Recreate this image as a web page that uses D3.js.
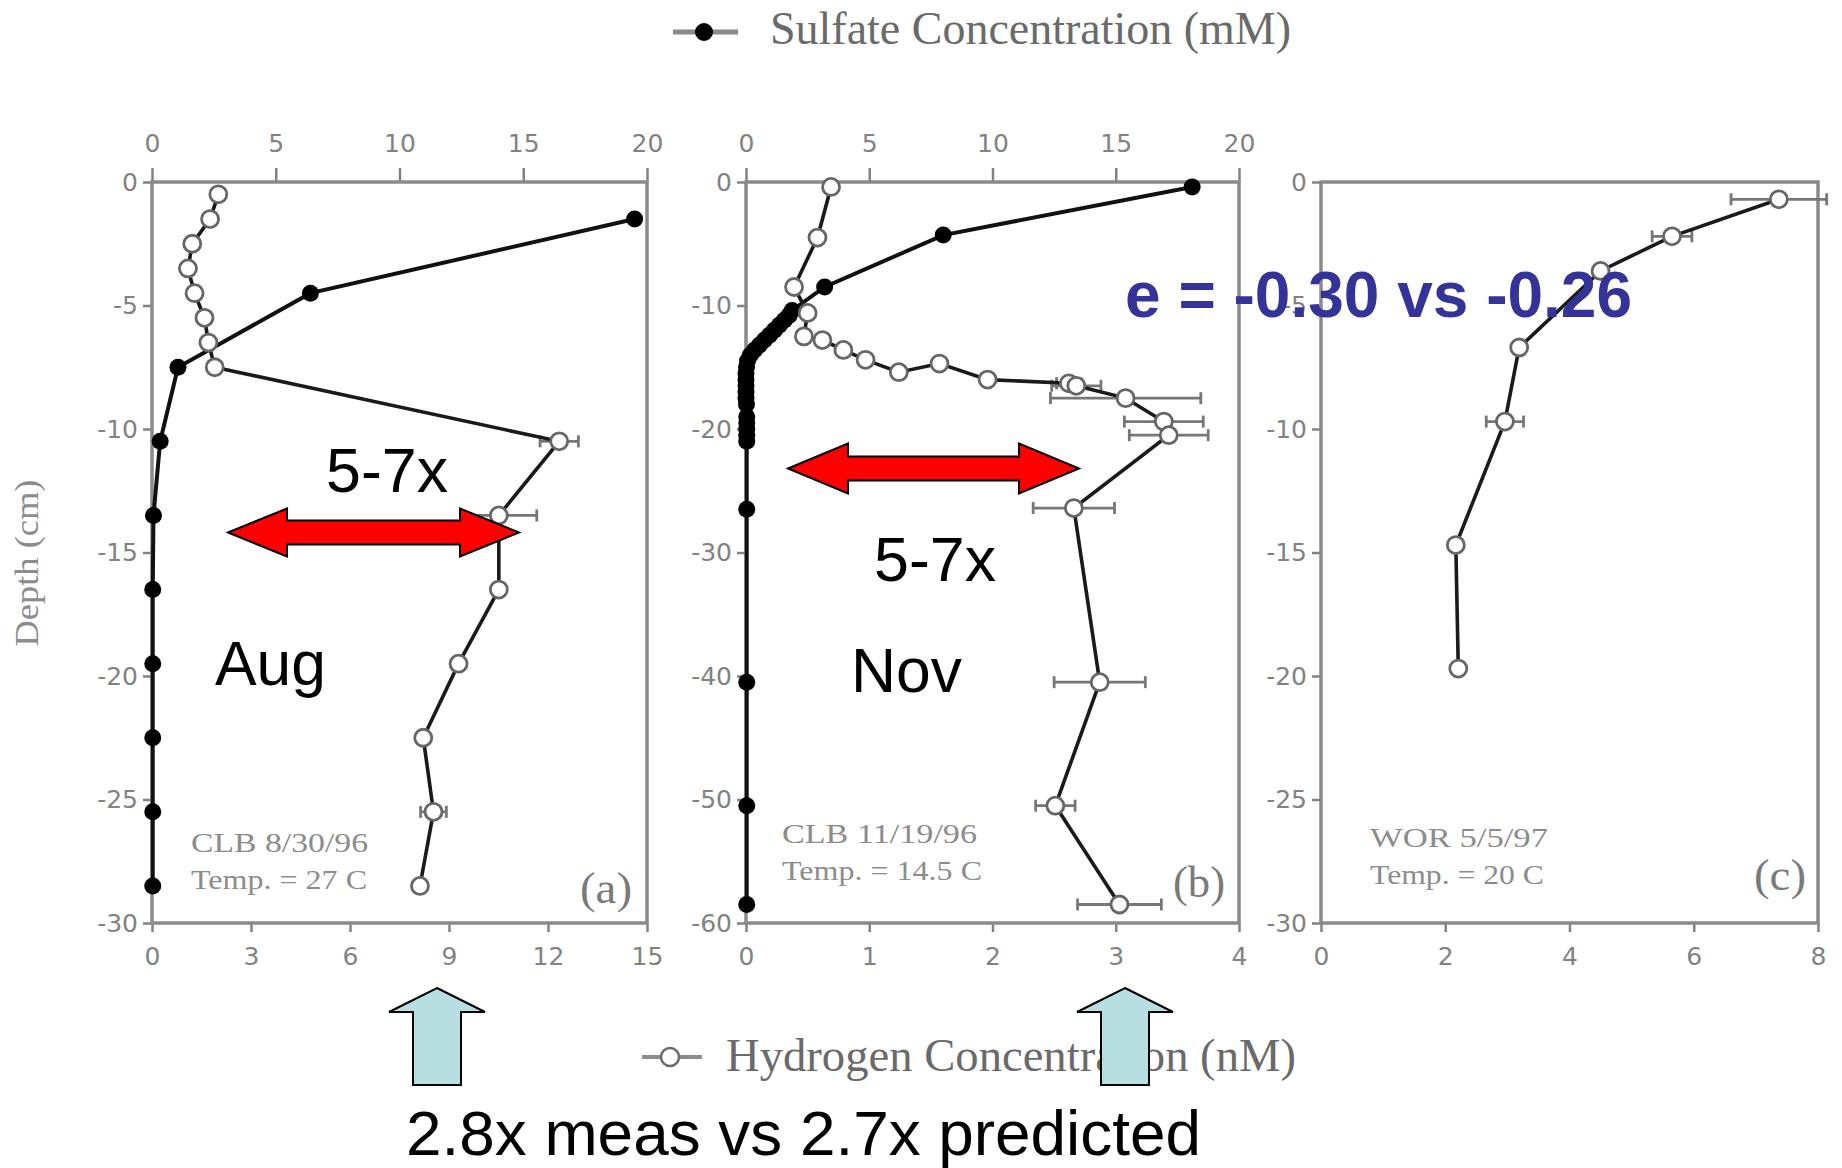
<!DOCTYPE html>
<html>
<head>
<meta charset="utf-8">
<script src="https://cdn.jsdelivr.net/npm/d3@7"></script>
<style>
  body { margin: 0; background: #fff; }
  svg { display: block; }
</style>
</head>
<body>
<script>
// ---- data ----
const sulfateTicks = [0, 5, 10, 15, 20];
const hydrogenTicksA = [0, 3, 6, 9, 12, 15];
const hydrogenTicksB = [0, 1, 2, 3, 4];
const hydrogenTicksC = [0, 2, 4, 6, 8];
const depthTicksA = [0, -5, -10, -15, -20, -25, -30];
const depthTicksB = [0, -10, -20, -30, -40, -50, -60];
const depthTicksC = [0, -5, -10, -15, -20, -25, -30];

// (a) CLB 8/30/96
const sulfateDepthA = [-1.5, -4.5, -7.5, -10.5, -13.5, -16.5, -19.5, -22.5, -25.5, -28.5];
const sulfateA = [19.5, 6.4, 1.05, 0.33, 0.06, 0.03, 0.03, 0.03, 0.03, 0.03];
const hydrogenDepthA = [-0.5, -1.5, -2.5, -3.5, -4.5, -5.5, -6.5, -7.5, -10.5, -13.5, -16.5, -19.5, -22.5, -25.5, -28.5];
const hydrogenA = [2.01, 1.76, 1.22, 1.09, 1.29, 1.59, 1.71, 1.90, 12.34, 10.51, 10.51, 9.29, 8.22, 8.53, 8.12];
const hydrogenErrA = [0, 0, 0, 0, 0, 0, 0, 0, 0.58, 1.15, 0, 0, 0, 0.39, 0];

// (b) CLB 11/19/96
const sulfateDepthB = [-0.4, -4.3, -8.5, -10.4, -10.8, -11.2, -11.6, -12, -12.4, -12.8, -13.2, -13.6, -14, -14.5, -15, -15.5, -16, -16.5, -17, -17.5, -18,
                       -19, -19.5, -20, -20.5, -21, -26.5, -40.5, -50.5, -58.5];
const sulfateB = [18.1, 8.0, 3.19, 1.87, 1.75, 1.55, 1.35, 1.15, 0.95, 0.75, 0.55, 0.35, 0.18, 0.06, 0.02, 0, 0, 0, 0, 0, 0.02,
                  0.03, 0.03, 0.03, 0.03, 0.03, 0.03, 0.03, 0.03, 0.03];
const hydrogenDepthB = [-0.4, -4.5, -8.5, -10.6, -12.5, -12.8, -13.6, -14.4, -15.4, -14.7, -16.0, -16.3, -16.5, -17.5, -19.4, -20.5, -26.4, -40.5, -50.5, -58.5];
const hydrogenB = [0.69, 0.58, 0.39, 0.5, 0.47, 0.62, 0.79, 0.97, 1.24, 1.57, 1.96, 2.62, 2.68, 3.08, 3.39, 3.43, 2.66, 2.87, 2.51, 3.03];
const hydrogenErrB = [0, 0, 0, 0, 0, 0, 0, 0, 0, 0, 0, 0.1, 0.2, 0.61, 0.32, 0.32, 0.33, 0.37, 0.16, 0.34];

// (c) WOR 5/5/97
const hydrogenDepthC = [-0.7, -2.2, -3.6, -6.7, -9.7, -14.7, -19.7];
const hydrogenC = [7.37, 5.65, 4.50, 3.19, 2.96, 2.17, 2.21];
const hydrogenErrC = [0.77, 0.32, 0, 0, 0.3, 0, 0];

// ---- layout ----
const width = 1842, height = 1168;
const plotTop = 182, plotBottom = 923;

const zip = (depths, vals, errs) => depths.map((d, i) => ({depth: d, v: vals[i], err: errs ? errs[i] : 0}));

const panels = [
  {x0: 152, x1: 647, hMax: 15, dMin: -30, hTicks: hydrogenTicksA, dTicks: depthTicksA, showSulfate: true,
   sulfate: zip(sulfateDepthA, sulfateA), hydrogen: zip(hydrogenDepthA, hydrogenA, hydrogenErrA),
   note: [['CLB 8/30/96', 177], ['Temp. = 27 C', 176]], noteX: 191, noteY: 852, tag: '(a)', tagX: 580, tagY: 903},
  {x0: 746, x1: 1239, hMax: 4, dMin: -60, hTicks: hydrogenTicksB, dTicks: depthTicksB, showSulfate: true,
   sulfate: zip(sulfateDepthB, sulfateB), hydrogen: zip(hydrogenDepthB, hydrogenB, hydrogenErrB),
   note: [['CLB 11/19/96', 195], ['Temp. = 14.5 C', 200]], noteX: 782, noteY: 843, tag: '(b)', tagX: 1173, tagY: 897},
  {x0: 1321, x1: 1818, hMax: 8, dMin: -30, hTicks: hydrogenTicksC, dTicks: depthTicksC, showSulfate: false,
   sulfate: [], hydrogen: zip(hydrogenDepthC, hydrogenC, hydrogenErrC),
   note: [['WOR 5/5/97', 178], ['Temp. = 20 C', 174]], noteX: 1370, noteY: 847, tag: '(c)', tagX: 1754, tagY: 890}
];

const svg = d3.select('body')
              .append('svg')
              .attr('width', width)
              .attr('height', height);

const axisGrey = '#828282';

function styleAxis(sel) {
  sel.style('color', axisGrey)
     .attr('font-family', 'DejaVu Sans')
     .attr('font-size', 25);
  sel.select('.domain').remove();
  sel.selectAll('.tick line').attr('stroke-width', 2.5);
}

panels.forEach(p => {
  const g = svg.append('g');
  const x = d3.scaleLinear().domain([0, p.hMax]).range([p.x0, p.x1]);
  const xs = d3.scaleLinear().domain([0, 20]).range([p.x0, p.x1]);
  const y = d3.scaleLinear().domain([0, p.dMin]).range([plotTop, plotBottom]);

  if (p.showSulfate) {
    g.append('g')
     .attr('transform', `translate(0, ${plotTop})`)
     .call(d3.axisTop(xs).tickValues(sulfateTicks).tickSize(14).tickPadding(16).tickFormat(d3.format('d')))
     .call(styleAxis);
  }
  g.append('g')
   .attr('transform', `translate(0, ${plotBottom})`)
   .call(d3.axisBottom(x).tickValues(p.hTicks).tickSize(9).tickPadding(15).tickFormat(d3.format('d')))
   .call(styleAxis);
  g.append('g')
   .attr('transform', `translate(${p.x0}, 0)`)
   .call(d3.axisLeft(y).tickValues(p.dTicks).tickSize(9).tickPadding(5)
           .tickFormat(d => d === 0 ? '0' : '-' + Math.abs(d)))
   .call(styleAxis);

  g.append('rect')
   .attr('x', p.x0).attr('y', plotTop)
   .attr('width', p.x1 - p.x0).attr('height', plotBottom - plotTop)
   .attr('fill', 'none')
   .attr('stroke', '#8a8a8a')
   .attr('stroke-width', 3.5);

  // sulfate profile
  if (p.sulfate.length) {
    g.append('path')
     .datum(p.sulfate)
     .attr('d', d3.line().x(d => xs(d.v)).y(d => y(d.depth)))
     .attr('fill', 'none')
     .attr('stroke', '#111')
     .attr('stroke-width', 4);
    g.selectAll('.sdot')
     .data(p.sulfate)
     .enter()
     .append('circle')
     .attr('cx', d => xs(d.v))
     .attr('cy', d => y(d.depth))
     .attr('r', 8.5)
     .attr('fill', '#000');
  }

  // hydrogen error bars
  const eb = g.selectAll('.err')
              .data(p.hydrogen.filter(d => d.err > 0))
              .enter()
              .append('g')
              .attr('stroke', '#777')
              .attr('stroke-width', 2.8);
  eb.append('line')
    .attr('x1', d => x(d.v - d.err)).attr('x2', d => x(d.v + d.err))
    .attr('y1', d => y(d.depth)).attr('y2', d => y(d.depth));
  eb.append('line')
    .attr('x1', d => x(d.v - d.err)).attr('x2', d => x(d.v - d.err))
    .attr('y1', d => y(d.depth) - 6).attr('y2', d => y(d.depth) + 6);
  eb.append('line')
    .attr('x1', d => x(d.v + d.err)).attr('x2', d => x(d.v + d.err))
    .attr('y1', d => y(d.depth) - 6).attr('y2', d => y(d.depth) + 6);

  // hydrogen profile
  g.append('path')
   .datum(p.hydrogen)
   .attr('d', d3.line().x(d => x(d.v)).y(d => y(d.depth)))
   .attr('fill', 'none')
   .attr('stroke', '#1a1a1a')
   .attr('stroke-width', 3.6);
  g.selectAll('.hdot')
   .data(p.hydrogen)
   .enter()
   .append('circle')
   .attr('cx', d => x(d.v))
   .attr('cy', d => y(d.depth))
   .attr('r', 8.5)
   .attr('fill', '#fff')
   .attr('stroke', '#666')
   .attr('stroke-width', 2.8);

  // site / temperature note
  p.note.forEach((n, i) => {
    g.append('text')
     .attr('x', p.noteX)
     .attr('y', p.noteY + i * 37)
     .attr('textLength', n[1])
     .attr('lengthAdjust', 'spacingAndGlyphs')
     .attr('font-family', 'Liberation Serif')
     .attr('font-size', 28)
     .attr('fill', '#8c8c8c')
     .text(n[0]);
  });
  g.append('text')
   .attr('x', p.tagX)
   .attr('y', p.tagY)
   .attr('textLength', 52)
   .attr('lengthAdjust', 'spacingAndGlyphs')
   .attr('font-family', 'Liberation Serif')
   .attr('font-size', 44)
   .attr('fill', '#7a7a7a')
   .text(p.tag);
});

// y axis title
svg.append('text')
   .attr('transform', 'translate(38, 563) rotate(-90)')
   .attr('text-anchor', 'middle')
   .attr('textLength', 167)
   .attr('lengthAdjust', 'spacingAndGlyphs')
   .attr('font-family', 'Liberation Serif')
   .attr('font-size', 34)
   .attr('fill', '#8c8c8c')
   .text('Depth (cm)');

// legends
const legTop = svg.append('g');
legTop.append('line')
      .attr('x1', 673).attr('x2', 738).attr('y1', 32).attr('y2', 32)
      .attr('stroke', '#8a8a8a').attr('stroke-width', 5);
legTop.append('circle')
      .attr('cx', 704).attr('cy', 32).attr('r', 9).attr('fill', '#000');
legTop.append('text')
      .attr('x', 770).attr('y', 44)
      .attr('textLength', 521)
      .attr('lengthAdjust', 'spacingAndGlyphs')
      .attr('font-family', 'Liberation Serif')
      .attr('font-size', 46)
      .attr('fill', '#6a6a6a')
      .text('Sulfate Concentration (mM)');

const legBot = svg.append('g');
legBot.append('line')
      .attr('x1', 642).attr('x2', 702).attr('y1', 1057).attr('y2', 1057)
      .attr('stroke', '#8a8a8a').attr('stroke-width', 4);
legBot.append('circle')
      .attr('cx', 670).attr('cy', 1057).attr('r', 9)
      .attr('fill', '#fff').attr('stroke', '#6a6a6a').attr('stroke-width', 2.5);
legBot.append('text')
      .attr('x', 726).attr('y', 1071)
      .attr('textLength', 570)
      .attr('lengthAdjust', 'spacingAndGlyphs')
      .attr('font-family', 'Liberation Serif')
      .attr('font-size', 46)
      .attr('fill', '#6a6a6a')
      .text('Hydrogen Concentration (nM)');

// slide annotations
function doubleArrow(x0, x1, cy, headLen, headHalf, shaftHalf) {
  return [[x0, cy], [x0 + headLen, cy - headHalf], [x0 + headLen, cy - shaftHalf],
          [x1 - headLen, cy - shaftHalf], [x1 - headLen, cy - headHalf], [x1, cy],
          [x1 - headLen, cy + headHalf], [x1 - headLen, cy + shaftHalf],
          [x0 + headLen, cy + shaftHalf], [x0 + headLen, cy + headHalf]];
}
function upArrow(cx, tipY, baseY, botY, headHalf, shaftHalf) {
  return [[cx, tipY], [cx + headHalf, baseY], [cx + shaftHalf, baseY], [cx + shaftHalf, botY],
          [cx - shaftHalf, botY], [cx - shaftHalf, baseY], [cx - headHalf, baseY]];
}
const poly = pts => 'M' + pts.map(p => p.join(',')).join('L') + 'Z';

svg.append('path')
   .attr('d', poly(doubleArrow(228, 519, 532.5, 59, 24, 12)))
   .attr('fill', '#ff0000').attr('stroke', '#000').attr('stroke-width', 2);
svg.append('path')
   .attr('d', poly(doubleArrow(788, 1079, 468.5, 60, 25, 12)))
   .attr('fill', '#ff0000').attr('stroke', '#000').attr('stroke-width', 2);

svg.append('path')
   .attr('d', poly(upArrow(437, 988, 1012, 1085, 48, 24)))
   .attr('fill', '#b7dee0').attr('stroke', '#000').attr('stroke-width', 2);
svg.append('path')
   .attr('d', poly(upArrow(1125, 988, 1012, 1085, 48, 24)))
   .attr('fill', '#b7dee0').attr('stroke', '#000').attr('stroke-width', 2);

const slideText = [
  ['5-7x', 326, 492, 122],
  ['Aug', 215, 685, 111],
  ['5-7x', 874, 581, 122],
  ['Nov', 851, 692, 111],
  ['2.8x meas vs 2.7x predicted', 406, 1155, 795]
];
slideText.forEach(t => {
  svg.append('text')
     .attr('x', t[1]).attr('y', t[2])
     .attr('textLength', t[3])
     .attr('lengthAdjust', 'spacingAndGlyphs')
     .attr('font-family', 'Liberation Sans, Arial, sans-serif')
     .attr('font-size', 63)
     .attr('fill', '#000')
     .text(t[0]);
});

svg.append('text')
   .attr('x', 1125).attr('y', 317)
   .attr('font-family', 'Liberation Sans, Arial, sans-serif')
   .attr('font-weight', 'bold')
   .attr('font-size', 64)
   .attr('fill', '#333399')
   .text('e = -0.30 vs -0.26');
</script>
</body>
</html>
